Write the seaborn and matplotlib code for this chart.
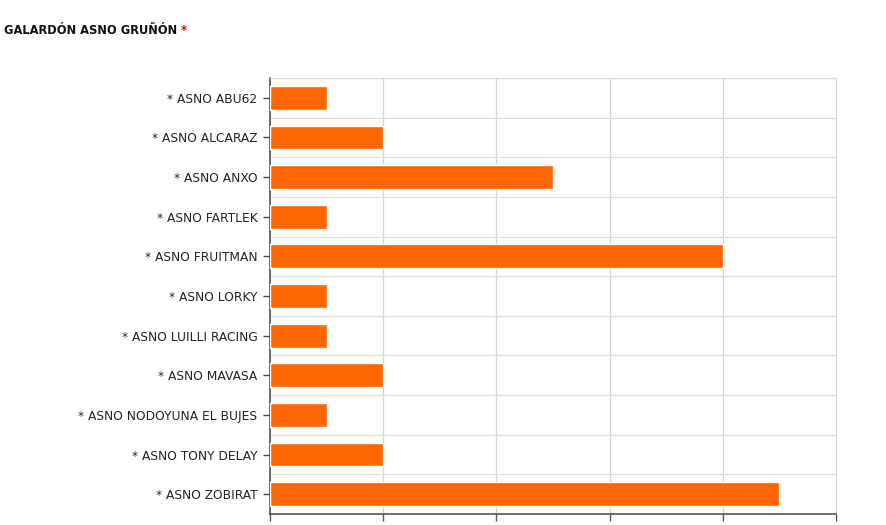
import matplotlib.pyplot as plt
import seaborn as sns
import numpy as np

# Data
names = ['* ASNO ABU62', '* ASNO ALCARAZ', '* ASNO ANXO', '* ASNO FARTLEK',
         '* ASNO FRUITMAN', '* ASNO LORKY', '* ASNO LUILLI RACING',
         '* ASNO MAVASA', '* ASNO NODOYUNA EL BUJES', '* ASNO TONY DELAY',
         '* ASNO ZOBIRAT']
votes = [1, 2, 5, 1, 8, 1, 1, 2, 1, 2, 9]
x_ticks = [0, 2, 4, 6, 8, 10]

sns.set_style('white')
plt.rcParams['font.family'] = ['DejaVu Sans']

fig = plt.figure(figsize=(8.86, 5.25), dpi=100)
ax = fig.add_axes([270 / 886, 1 - 514 / 525, 566 / 886, 436 / 525])

sns.barplot(x=votes, y=names, color='#ff6600', saturation=1, width=0.6,
            orient='h', ax=ax, zorder=3)

ax.set_xlim(0, 10)
ax.set_ylim(len(names) - 0.5, -0.5)
ax.set_xticks(x_ticks)
ax.set_xticklabels([])
ax.set_yticks(np.arange(len(names) + 1) - 0.5, minor=True)
ax.set_xlabel('')
ax.set_ylabel('')

# Grid lines
ax.grid(axis='x', which='major', color='#d4d4d4', linewidth=0.9, zorder=0)
ax.grid(axis='y', which='minor', color='#dcdcdc', linewidth=0.9, zorder=0)
ax.tick_params(axis='y', which='minor', length=0)
ax.tick_params(axis='y', which='major', length=5, width=1, color='#444444',
               labelsize=8.8, labelcolor='#222222', pad=4, left=True)
ax.tick_params(axis='x', which='major', length=5, width=1, color='#555555',
               bottom=True)

for side in ['top', 'right']:
    ax.spines[side].set_color('#d9d9d9')
for side in ['left', 'bottom']:
    ax.spines[side].set_color('#555555')
    ax.spines[side].set_linewidth(1.2)

# Title with red asterisk
t = fig.text(4 / 886, 1 - 30 / 525, 'GALARDÓN ASNO GRUÑÓN', fontsize=8.3,
             fontweight='bold', color='#111111', va='center', ha='left')
fig.canvas.draw()
ax.annotate(' *', xy=(1, 0.5), xycoords=t, fontsize=8.3, fontweight='bold',
            color='#dd0000', va='center', ha='left')

plt.savefig('out.png', dpi=100)
